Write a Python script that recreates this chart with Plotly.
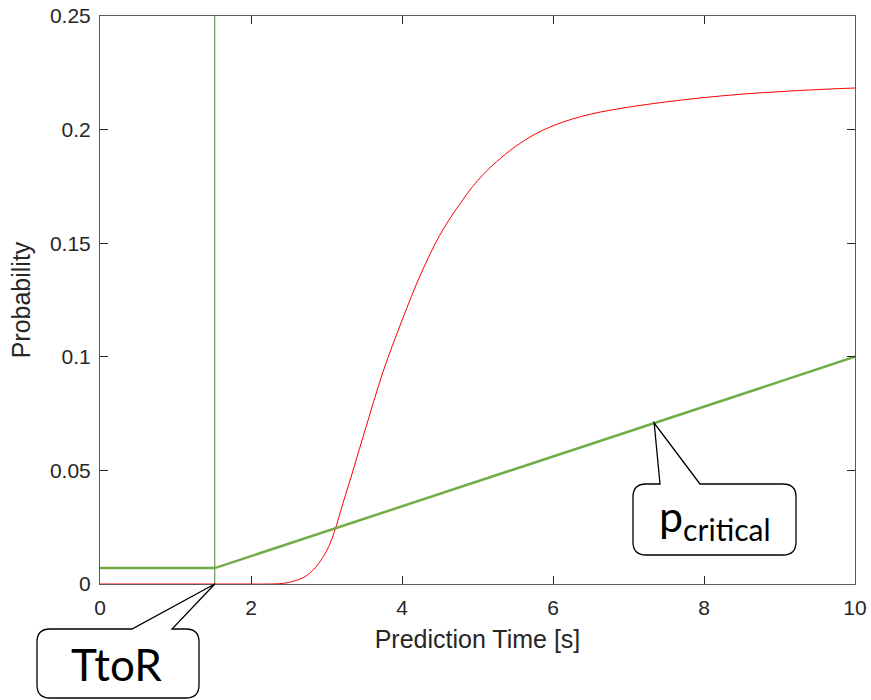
import plotly.graph_objects as go

# ---------------- data ----------------
time_red = [0, 0.25, 0.5, 0.75, 1.0, 1.25, 1.5, 1.75, 2.0, 2.25, 2.5, 2.75, 3.0,
            3.25, 3.5, 3.75, 4.0, 4.25, 4.5, 4.75, 5.0, 5.25, 5.5, 5.75, 6.0,
            6.25, 6.5, 6.75, 7.0, 7.25, 7.5, 7.75, 8.0, 8.25, 8.5, 8.75, 9.0,
            9.25, 9.5, 9.75, 10.0]
prob_red = [0, 0, 0, 0, 0, 0, 0, 0, 0, 0, 0.0007, 0.004, 0.0145,
            0.039, 0.0665, 0.0935, 0.116, 0.1365, 0.1535, 0.1665, 0.1775, 0.1858,
            0.1925, 0.1978, 0.2017, 0.2046, 0.2068, 0.2085, 0.2099, 0.2111, 0.2122,
            0.2132, 0.2141, 0.2149, 0.2156, 0.2162, 0.2167, 0.2172, 0.2176, 0.2180,
            0.2183]
time_crit = [0, 1.52, 10]
p_crit = [0.007, 0.007, 0.1]
ttor_x = [1.52, 1.52]
ttor_y = [0, 0.25]
x_ticks = [0, 2, 4, 6, 8, 10]
y_ticks = [0, 0.05, 0.1, 0.15, 0.2, 0.25]
y_tick_labels = ["0", "0.05", "0.1", "0.15", "0.2", "0.25"]
pcrit_label_x = 7.34

# ---------------- layout geometry ----------------
OFF = 0                      # body margin removed by post_script below
W, H = 871 - OFF, 700 - OFF
PLOT_L, PLOT_R, PLOT_T, PLOT_B = 100, 855, 16, 584   # window pixels
ML = PLOT_L - OFF
MT = PLOT_T - OFF
MR = W - (PLOT_R - OFF)
MB = H - (PLOT_B - OFF)
PW, PH = PLOT_R - PLOT_L, PLOT_B - PLOT_T
X0, X1, Y0, Y1 = 0, 10, 0, 0.25


def px2paper(xp, yp):
    return (xp - PLOT_L) / PW, (PLOT_B - yp) / PH


def data2px(x, y):
    return PLOT_L + (x - X0) / (X1 - X0) * PW, PLOT_B - (y - Y0) / (Y1 - Y0) * PH


def callout_path(left, top, right, bottom, r, ta, tb, tip):
    pts = []

    def P(cmd, *coords):
        vals = []
        for i in range(0, len(coords), 2):
            a, b = px2paper(coords[i], coords[i + 1])
            vals.append(f"{a:.5f},{b:.5f}")
        pts.append(cmd + " ".join(vals))

    P("M", left + r, top)
    P("L", ta, top)
    P("L", tip[0], tip[1])
    P("L", tb, top)
    P("L", right - r, top)
    P("Q", right, top, right, top + r)
    P("L", right, bottom - r)
    P("Q", right, bottom, right - r, bottom)
    P("L", left + r, bottom)
    P("Q", left, bottom, left, bottom - r)
    P("L", left, top + r)
    P("Q", left, top, left + r, top)
    return " ".join(pts) + " Z"


fig = go.Figure()
fig.add_trace(go.Scatter(x=ttor_x, y=ttor_y, mode="lines",
                         line=dict(color="#4F7F3A", width=1), hoverinfo="skip"))
fig.add_trace(go.Scatter(x=time_red, y=prob_red, mode="lines",
                         line=dict(color="#FF0000", width=1, shape="spline", smoothing=1.0)))
fig.add_trace(go.Scatter(x=time_crit, y=p_crit, mode="lines",
                         line=dict(color="#70AD47", width=2.5)))

# callouts
tip1 = data2px(ttor_x[0], 0)
pc_y = p_crit[1] + (p_crit[2] - p_crit[1]) * (pcrit_label_x - time_crit[1]) / (time_crit[2] - time_crit[1])
tip2 = data2px(pcrit_label_x, pc_y)
shapes = [
    dict(type="path", xref="paper", yref="paper",
         path=callout_path(37, 629, 199, 698, 13, 132, 172, tip1),
         line=dict(color="black", width=1.3), fillcolor="white", layer="above"),
    dict(type="path", xref="paper", yref="paper",
         path=callout_path(633, 484, 796, 555, 13, 660, 700, tip2),
         line=dict(color="black", width=1.3), fillcolor="white", layer="above"),
]
cx1, cy1 = px2paper(116, 664)
cx2, cy2 = px2paper(715, 518)
annotations = [
    dict(x=cx1, y=cy1, xref="paper", yref="paper", text="TtoR", showarrow=False,
         font=dict(family="Lato", size=44, color="black"), xanchor="center", yanchor="middle"),
    dict(x=cx2, y=cy2, xref="paper", yref="paper", text="p<sub>critical</sub>", showarrow=False,
         font=dict(family="Lato", size=43, color="black"), xanchor="center", yanchor="middle"),
]

axis_common = dict(showgrid=False, zeroline=False, showline=True, linecolor="#5a5a5a",
                   linewidth=1, mirror="ticks", ticks="inside", ticklen=8, tickcolor="#262626",
                   ticklabeloverflow="allow",
                   tickfont=dict(family="Liberation Sans", size=21, color="#262626"))

fig.update_layout(
    width=W, height=H,
    margin=dict(l=ML, r=MR, t=MT, b=MB, autoexpand=False),
    paper_bgcolor="white", plot_bgcolor="white",
    showlegend=False,
    hovermode=False,
    shapes=shapes,
    annotations=annotations,
    xaxis=dict(range=[X0, X1], tickvals=x_ticks, ticktext=[str(v) for v in x_ticks],
               ticklabelstandoff=5,
               title=dict(text="Prediction Time [s]", standoff=12,
                          font=dict(family="Liberation Sans", size=25, color="#262626")),
               **axis_common),
    yaxis=dict(range=[Y0, Y1], tickvals=y_ticks, ticktext=y_tick_labels,
               ticklabelstandoff=4,
               title=dict(text="Probability", standoff=12,
                          font=dict(family="Liberation Sans", size=25, color="#262626")),
               **axis_common),
)

fig.write_html("out.html",
               config={"displayModeBar": False},
               post_script="document.body.style.margin='0px';"
                           "document.documentElement.style.overflow='hidden';")
